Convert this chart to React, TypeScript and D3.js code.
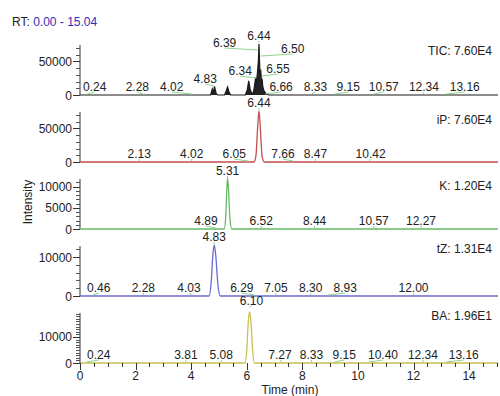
import React from "react";
import * as d3 from "d3";

// ---------- data ----------
const RT_MAX = 15.04;
const xTicksMajor = [0, 2, 4, 6, 8, 10, 12, 14];

const ticTrace: [number, number][] = [
  [0, 0], [4.70, 0], [4.76, 9000], [4.80, 3000], [4.84, 13000], [4.90, 2000], [4.95, 0],
  [5.20, 0], [5.26, 6000], [5.31, 12000], [5.36, 5000], [5.42, 0],
  [5.95, 0], [6.02, 8000], [6.07, 21000], [6.12, 9000], [6.18, 2000],
  [6.24, 4000], [6.28, 14000], [6.32, 26000], [6.35, 18000], [6.39, 36000], [6.42, 52000],
  [6.44, 76000], [6.46, 50000], [6.48, 30000], [6.50, 38000], [6.53, 20000], [6.55, 24000],
  [6.58, 12000], [6.62, 6000], [6.66, 4000], [6.72, 1000], [6.80, 0], [15.04, 0],
];
const ipTrace: [number, number][] = [
  [0, 0], [6.26, 0], [6.33, 9000], [6.39, 50000], [6.44, 76000], [6.49, 50000], [6.55, 9000], [6.63, 0], [15.04, 0],
];
const kTrace: [number, number][] = [
  [0, 0], [5.19, 0], [5.24, 2500], [5.28, 9000], [5.31, 12000], [5.35, 8500], [5.40, 2000], [5.46, 0], [15.04, 0],
];
const tzTrace: [number, number][] = [
  [0, 0], [4.64, 0], [4.72, 3500], [4.78, 10500], [4.83, 13100], [4.89, 10000], [4.96, 3000], [5.05, 0], [15.04, 0],
];
const baTrace: [number, number][] = [
  [0, 0], [5.94, 0], [6.00, 5000], [6.06, 16500], [6.10, 19600], [6.15, 16000], [6.21, 5000], [6.27, 0], [15.04, 0],
];

// peak retention times (labels) per panel
const ticPeaks = [0.24, 2.28, 4.02, 4.83, 6.39, 6.44, 6.50, 6.34, 6.55, 6.66, 8.33, 9.15, 10.57, 12.34, 13.16];
const ipPeaks = [2.13, 4.02, 6.05, 6.44, 7.66, 8.47, 10.42];
const kPeaks = [5.31, 4.89, 6.52, 8.44, 10.57, 12.27];
const tzPeaks = [4.83, 0.46, 2.28, 4.03, 6.29, 7.05, 8.30, 8.93, 12.00];
const baPeaks = [6.10, 0.24, 3.81, 5.08, 7.27, 8.33, 9.15, 10.40, 12.34, 13.16];

// label placement (px offsets: dx from peak, lift above panel baseline)
const ticLabelDx = [8, -6, -20, -9, -33, 0, 32, -16, 16, 16, 4, 14, 10, 1, 19];
const ticLabelLift = [4, 4, 4, 12, 48, 55, 42, 20, 22, 4, 4, 4, 4, 4, 4];
const ipLabelDx = [0, 0, -14, 0, -10, 0, 1];
const ipLabelLift = [4, 4, 4, 55, 4, 4, 4];
const kLabelDx = [0, -10, 0, 0, 0, 0];
const kLabelLift = [54, 4, 4, 4, 4, 4];
const tzLabelDx = [0, 6, 0, -3, -13, 0, 0, 17, 0];
const tzLabelLift = [55, 4, 4, 4, 4, 4, 4, 4, 4];
const baLabelDx = [2, 12, 0, 0, -2, 0, 10, 14, 0, 18];
const baLabelLift = [58, 4, 4, 4, 4, 4, 4, 4, 4, 4];

const panelNames = ["TIC: 7.60E4", "iP: 7.60E4", "K: 1.20E4", "tZ: 1.31E4", "BA: 1.96E1"];
const panelMax = [76000, 76000, 12000, 13100, 19600];
const yMajorTicks = [[0, 50000], [0, 50000], [0, 5000, 10000], [0, 10000], [0, 10000]];
const yMinorStep = [10000, 10000, 1000, 2000, 1000];

// ---------- layout ----------
const W = 500, H = 396;
const X0 = 80, X1 = 498;
const baselines = [95, 162, 229, 296, 363];
const panelH = 51;
const nameLift = [40, 38, 39, 43, 43];
const colors = ["#1a1a1a", "#c0504d", "#66bb66", "#6a6ad0", "#c8c050"];
const FONT = "'Liberation Sans', Arial, sans-serif";

export default function App() {
  const x = d3.scaleLinear().domain([0, RT_MAX]).range([X0, X1]);
  const traces = [ticTrace, ipTrace, kTrace, tzTrace, baTrace];
  const peaks = [ticPeaks, ipPeaks, kPeaks, tzPeaks, baPeaks];
  const dxs = [ticLabelDx, ipLabelDx, kLabelDx, tzLabelDx, baLabelDx];
  const lifts = [ticLabelLift, ipLabelLift, kLabelLift, tzLabelLift, baLabelLift];
  const xMinor = d3.range(0, 15.01, 0.5);

  return (
    <svg width={W} height={H} style={{ position: "absolute", left: 0, top: 0 }} fontFamily={FONT}>
      <rect width={W} height={H} fill="#fff" />
      <text x={12} y={26} fontSize={12} fill="#222">
        RT: <tspan fill="#2e2eb8">0.00 - 15.04</tspan>
      </text>
      <text transform="translate(32,202) rotate(-90)" textAnchor="middle" fontSize={12} fill="#222">
        Intensity
      </text>

      {traces.map((tr, i) => {
        const base = baselines[i];
        const y = d3.scaleLinear().domain([0, panelMax[i]]).range([base, base - panelH]);
        const line = d3.line<[number, number]>().x((d) => x(d[0])).y((d) => y(d[1]))
          .curve(i === 0 ? d3.curveLinear : d3.curveMonotoneX);
        const area = d3.area<[number, number]>().x((d) => x(d[0])).y0(base).y1((d) => y(d[1]));
        const minors = d3.range(0, panelMax[i], yMinorStep[i]);
        return (
          <g key={i}>
            {/* y axis */}
            <line x1={X0} x2={X0} y1={base} y2={base - panelH + 1} stroke="#333" strokeWidth={1} />
            {minors.map((v) => (
              <line key={v} x1={X0 - 4} x2={X0} y1={Math.round(y(v)) + 0.5} y2={Math.round(y(v)) + 0.5} stroke="#555" strokeWidth={1} />
            ))}
            {yMajorTicks[i].map((v) => (
              <g key={"M" + v}>
                <line x1={X0 - 7} x2={X0} y1={Math.round(y(v)) + 0.5} y2={Math.round(y(v)) + 0.5} stroke="#333" strokeWidth={1} />
                <text x={X0 - 8} y={y(v) + 4.5} textAnchor="end" fontSize={12} fill="#222">{v}</text>
              </g>
            ))}
            {/* trace */}
            {i === 0 && <path d={area(tr) || ""} fill="#222" />}
            <path d={line(tr) || ""} fill="none" stroke={colors[i]} strokeWidth={i === 0 ? 1.2 : 1.3} />
            {/* peak labels */}
            {peaks[i].map((rt, k) => {
              const cx = x(rt) + dxs[i][k];
              const lb = base - lifts[i][k];
              return (
                <g key={"p" + k}>
                  <line x1={x(rt)} y1={lb + 3} x2={cx} y2={lb + 1} stroke="#8fd48f" strokeWidth={1} />
                  <text x={cx} y={lb} textAnchor="middle" fontSize={12} fill="#222">{rt.toFixed(2)}</text>
                </g>
              );
            })}
            <text x={492} y={base - nameLift[i]} textAnchor="end" fontSize={12} fill="#222">{panelNames[i]}</text>
          </g>
        );
      })}

      {/* x axis ticks on bottom panel */}
      {xMinor.map((v) => (
        <line key={"xm" + v} x1={Math.round(x(v)) + 0.5} x2={Math.round(x(v)) + 0.5} y1={baselines[4]} y2={baselines[4] + 4} stroke="#333" />
      ))}
      {xTicksMajor.map((v) => (
        <g key={"xM" + v}>
          <line x1={Math.round(x(v)) + 0.5} x2={Math.round(x(v)) + 0.5} y1={baselines[4]} y2={baselines[4] + 7} stroke="#333" />
          <text x={x(v)} y={380} textAnchor="middle" fontSize={12} fill="#222">{v}</text>
        </g>
      ))}
      <text x={290} y={393.5} textAnchor="middle" fontSize={12} fill="#222">Time (min)</text>
    </svg>
  );
}
